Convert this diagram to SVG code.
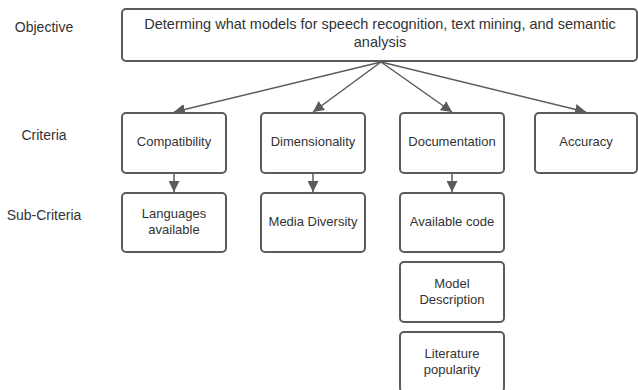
<svg xmlns="http://www.w3.org/2000/svg" width="638" height="390" viewBox="0 0 638 390">
<style>
.box{fill:#fff;stroke:#5b5b5b;stroke-width:2}
.t{font-family:"Liberation Sans",Arial,sans-serif;font-size:13px;fill:#333;text-anchor:middle}
.h{font-size:14.5px}
.l{font-family:"Liberation Sans",Arial,sans-serif;font-size:14px;fill:#333;text-anchor:middle}
.c{stroke:#5b5b5b;stroke-width:1.5;fill:none;marker-end:url(#ah)}
</style>
<defs>
<marker id="ah" viewBox="0 0 10 10" refX="10" refY="5" markerWidth="11" markerHeight="11" markerUnits="userSpaceOnUse" orient="auto">
<path d="M0,0 L10,5 L0,10 z" fill="#5b5b5b"/>
</marker>
</defs>
<rect width="638" height="390" fill="#fff"/>
<g id="labels">
<text class="l" x="44" y="32">Objective</text>
<text class="l" x="44" y="140">Criteria</text>
<text class="l" x="44" y="220">Sub-Criteria</text>
</g>
<g id="connectors">
<line class="c" x1="381" y1="62" x2="174" y2="112"/>
<line class="c" x1="381" y1="62" x2="313" y2="112"/>
<line class="c" x1="381" y1="62" x2="452" y2="112"/>
<line class="c" x1="381" y1="62" x2="586" y2="112"/>
<line class="c" x1="174" y1="174" x2="174" y2="192"/>
<line class="c" x1="313" y1="174" x2="313" y2="192"/>
<line class="c" x1="452" y1="174" x2="452" y2="192"/>
</g>
<g id="objective">
<rect class="box" x="122" y="9" width="515" height="52" rx="4"/>
<text class="t h" x="380" y="29">Determing what models for speech recognition, text mining, and semantic</text>
<text class="t h" x="380" y="47">analysis</text>
</g>
<g id="compatibility">
<rect class="box" x="122" y="113" width="104" height="60" rx="4"/>
<text class="t" x="174" y="146">Compatibility</text>
</g>
<g id="dimensionality">
<rect class="box" x="261" y="113" width="104" height="60" rx="4"/>
<text class="t" x="313" y="146">Dimensionality</text>
</g>
<g id="documentation">
<rect class="box" x="400" y="113" width="104" height="60" rx="4"/>
<text class="t" x="452" y="146">Documentation</text>
</g>
<g id="accuracy">
<rect class="box" x="535" y="113" width="102" height="60" rx="4"/>
<text class="t" x="586" y="146">Accuracy</text>
</g>
<g id="languages">
<rect class="box" x="122" y="193" width="104" height="59" rx="4"/>
<text class="t" x="174" y="218">Languages</text>
<text class="t" x="174" y="234">available</text>
</g>
<g id="media">
<rect class="box" x="261" y="193" width="104" height="59" rx="4"/>
<text class="t" x="313" y="226">Media Diversity</text>
</g>
<g id="code">
<rect class="box" x="400" y="193" width="104" height="59" rx="4"/>
<text class="t" x="452" y="226">Available code</text>
</g>
<g id="model">
<rect class="box" x="400" y="262" width="104" height="60" rx="4"/>
<text class="t" x="452" y="288">Model</text>
<text class="t" x="452" y="304">Description</text>
</g>
<g id="literature">
<rect class="box" x="400" y="332" width="104" height="60" rx="4"/>
<text class="t" x="452" y="358">Literature</text>
<text class="t" x="452" y="374">popularity</text>
</g>
</svg>
